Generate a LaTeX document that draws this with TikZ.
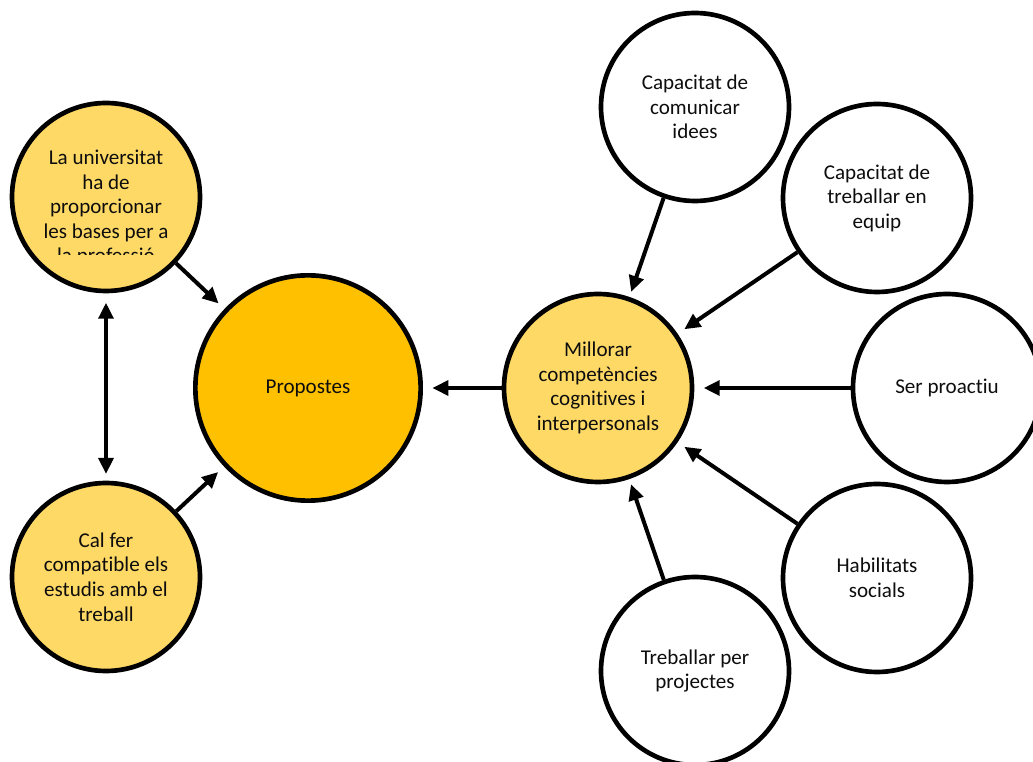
\documentclass[tikz,border=0pt]{standalone}
\usepackage{fontspec}
\setmainfont{Carlito}[Ligatures={NoCommon}]
\usetikzlibrary{arrows.meta}
\definecolor{lightgold}{HTML}{FFD966}
\definecolor{gold}{HTML}{FFC000}
\definecolor{txt}{HTML}{0D0D0D}
\begin{document}
\begin{tikzpicture}[x=0.75pt,y=-0.75pt,
  labeltext/.style={align=center, text=txt, font=\fontsize{15.8}{18.4}\selectfont},
  bubble/.style={circle, draw=black, line width=3.5pt, minimum size=141pt, inner sep=0pt, labeltext},
  lite/.style={bubble, fill=lightgold},
  plain/.style={bubble, fill=white},
  conn/.style={line width=3pt, -{Triangle[length=12pt,width=11pt]}},
  both/.style={line width=3pt, {Triangle[length=12pt,width=11pt]}-{Triangle[length=12pt,width=11pt]}},
  ]
\useasboundingbox (0,0) rectangle (1033,762);
\clip (0,0) rectangle (1033,762);
% left side
\node[lite] (uni) at (106,197) {};
\begin{scope}
  \clip (0,0) rectangle (400,255);
  \node[labeltext] (unitext) at (106,208) {La universitat\\ha de\\proporcionar\\les bases per a\\la professió};
\end{scope}
\node[lite] (cal) at (106,577) {Cal fer\\compatible els\\estudis amb el\\treball};
\node[bubble, fill=gold, minimum size=169pt] (prop) at (308,388) {Propostes};
% centre
\node[lite] (mill) at (598,388) {Millorar\\competències\\cognitives i\\interpersonals};
% right side
\node[plain] (com) at (695,107) {Capacitat de\\comunicar\\idees};
\node[plain] (equip) at (877,198) {Capacitat de\\treballar en\\equip};
\node[plain] (proa) at (947,388) {Ser proactiu};
\node[plain] (hab) at (877,578) {Habilitats\\socials};
\node[plain] (proj) at (695,671) {Treballar per\\projectes};
% connectors
\draw[conn, shorten >=6pt] (uni) -- (prop);
\draw[conn, shorten >=6pt] (cal) -- (prop);
\draw[both, shorten >=5pt, shorten <=7pt] (uni) -- (cal);
\draw[conn, shorten >=7pt] (mill) -- (prop);
\draw[conn, shorten >=4pt] (com) -- (mill);
\draw[conn, shorten >=6pt] (equip) -- (mill);
\draw[conn, shorten >=7pt] (proa) -- (mill);
\draw[conn, shorten >=6pt] (hab) -- (mill);
\draw[conn, shorten >=4pt] (proj) -- (mill);
\end{tikzpicture}
\end{document}
